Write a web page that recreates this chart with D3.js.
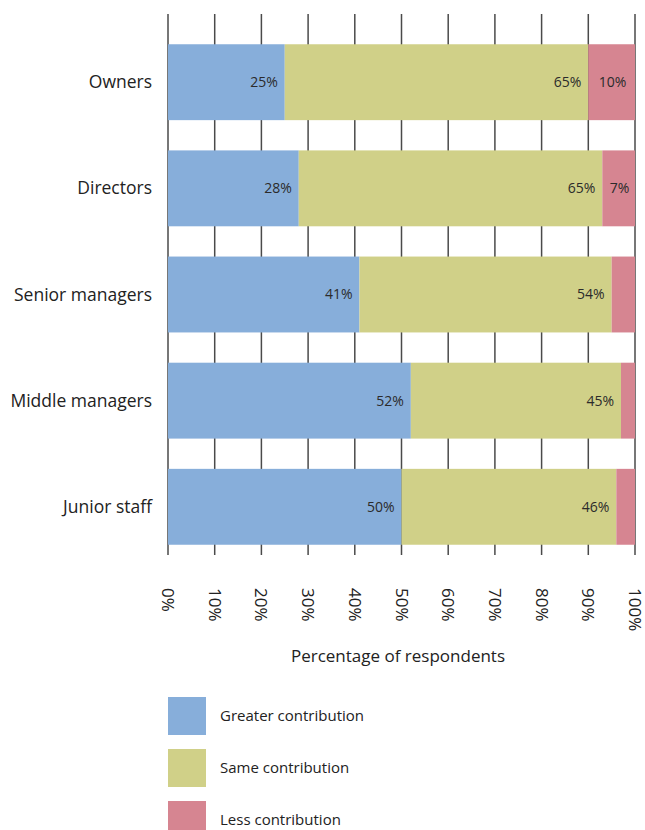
<!DOCTYPE html>
<html>
<head>
<meta charset="utf-8">
<script src="https://cdn.jsdelivr.net/npm/d3@7/dist/d3.min.js"></script>
<style>
  body { margin: 0; background: #fff; }
  svg { display: block; font-family: "Open Sans", "Noto Sans", sans-serif; }
</style>
</head>
<body>
<svg id="chart" width="645" height="830"></svg>
<script>
// Respondent groups and their share of answers (percent)
const categories = ["Owners", "Directors", "Senior managers", "Middle managers", "Junior staff"];
const greater = [25, 28, 41, 52, 50];
const same = [65, 65, 54, 45, 46];
const less = [10, 7, 5, 3, 4];
// Which "less" values carry a printed label
const lessLabelled = [true, true, false, false, false];
const seriesNames = ["Greater contribution", "Same contribution", "Less contribution"];
const seriesColors = ["#87aeda", "#d0d088", "#d68591"];
const tickValues = [0, 10, 20, 30, 40, 50, 60, 70, 80, 90, 100];

const svg = d3.select("#chart");
const x = d3.scaleLinear().domain([0, 100]).range([168, 635]);
const y = d3.scaleBand().domain(categories).range([14, 575]).paddingInner(0.285).paddingOuter(0.285);

const rows = categories.map((c, i) => ({ cat: c, greater: greater[i], same: same[i], less: less[i] }));
const keys = ["greater", "same", "less"];
const stacked = d3.stack().keys(keys)(rows);

// Vertical grid lines sit behind the bars
svg.append("g").selectAll("line").data(tickValues).join("line")
  .attr("x1", d => x(d)).attr("x2", d => x(d))
  .attr("y1", 14).attr("y2", 555)
  .attr("stroke", "#4a4a4a").attr("stroke-width", 1.5);

// Stacked bars
const layers = svg.append("g").selectAll("g").data(stacked).join("g")
  .attr("fill", (d, i) => seriesColors[i]);
layers.selectAll("rect").data(d => d).join("rect")
  .attr("x", d => x(d[0]))
  .attr("width", d => x(d[1]) - x(d[0]))
  .attr("y", d => y(d.data.cat))
  .attr("height", y.bandwidth());

// Value labels
const labels = svg.append("g").attr("font-size", 14).attr("fill", "#2b2b2b");
stacked.forEach((layer, li) => {
  layer.forEach((d, i) => {
    if (li === 2 && !lessLabelled[i]) return;
    const v = d[1] - d[0];
    const t = labels.append("text")
      .attr("y", y(d.data.cat) + y.bandwidth() / 2)
      .attr("dy", "0.35em")
      .text(v + "%");
    if (li === 2) {
      t.attr("x", (x(d[0]) + x(d[1])) / 2 + 1).attr("text-anchor", "middle");
    } else {
      t.attr("x", x(d[1]) - 7).attr("text-anchor", "end");
    }
  });
});

// Category labels
svg.append("g").selectAll("text").data(categories).join("text")
  .attr("x", 152)
  .attr("y", d => y(d) + y.bandwidth() / 2)
  .attr("dy", "0.35em")
  .attr("text-anchor", "end")
  .attr("font-size", 17.5)
  .attr("fill", "#222")
  .text(d => d);

// Rotated tick labels along the bottom
svg.append("g").selectAll("text").data(tickValues).join("text")
  .attr("transform", d => `translate(${x(d)},588) rotate(90)`)
  .attr("dy", "0.35em")
  .attr("text-anchor", "start")
  .attr("font-size", 17)
  .attr("fill", "#222")
  .text(d => d + "%");

// Axis title
svg.append("text")
  .attr("x", 398).attr("y", 662)
  .attr("text-anchor", "middle")
  .attr("font-size", 17)
  .attr("fill", "#222")
  .text("Percentage of respondents");

// Legend
const legend = svg.append("g").selectAll("g").data(seriesNames).join("g")
  .attr("transform", (d, i) => `translate(168,${697 + i * 52})`);
legend.append("rect")
  .attr("width", 38).attr("height", 38)
  .attr("fill", (d, i) => seriesColors[i]);
legend.append("text")
  .attr("x", 52).attr("y", 19).attr("dy", "0.35em")
  .attr("font-size", 15)
  .attr("fill", "#222")
  .text(d => d);
</script>
</body>
</html>
